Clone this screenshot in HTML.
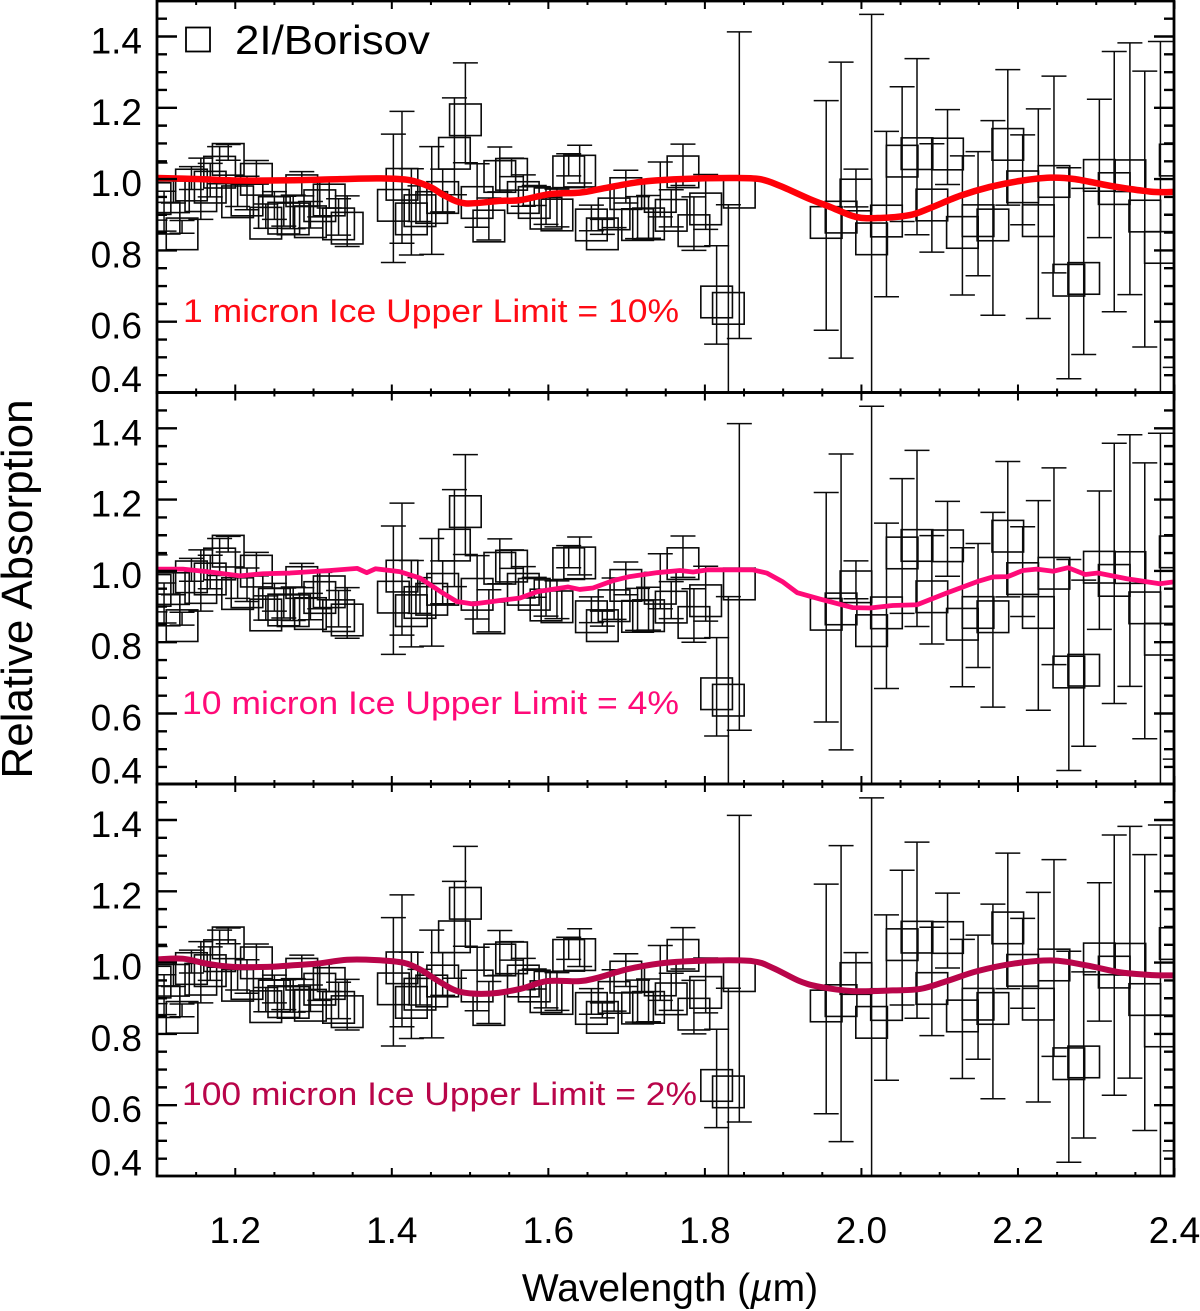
<!DOCTYPE html>
<html lang="en">
<head>
<meta charset="utf-8">
<title>2I/Borisov relative absorption</title>
<style>
html,body{margin:0;padding:0;background:#fff;width:1200px;height:1311px;overflow:hidden}
svg{display:block}
text{font-family:"Liberation Sans",Arial,sans-serif}
</style>
</head>
<body>
<svg id="chart" xmlns="http://www.w3.org/2000/svg" width="1200" height="1311" viewBox="0 0 1200 1311">
  <defs>
    <clipPath id="clip-0"><rect x="157" y="1" width="1017" height="391.5"/></clipPath>
    <clipPath id="clip-1"><rect x="157" y="392.5" width="1017" height="391.5"/></clipPath>
    <clipPath id="clip-2"><rect x="157" y="784" width="1017" height="392"/></clipPath>
  </defs>
  <g id="panel-0"></g>
  <g id="panel-1"></g>
  <g id="panel-2"></g>
  <g id="axes"></g>

  <rect x="186" y="27.5" width="24" height="24" fill="none" stroke="#000" stroke-width="1.8"/>
  <text x="235" y="54" font-size="41" fill="#000" textLength="195" lengthAdjust="spacingAndGlyphs">2I/Borisov</text>

  <text x="183" y="322" font-size="32" fill="#ff0a14" textLength="496" lengthAdjust="spacingAndGlyphs">1 micron Ice Upper Limit = 10%</text>
  <text x="182" y="714" font-size="32" fill="#ff0a78" textLength="497" lengthAdjust="spacingAndGlyphs">10 micron Ice Upper Limit = 4%</text>
  <text x="182" y="1105" font-size="32" fill="#b9054a" textLength="515" lengthAdjust="spacingAndGlyphs">100 micron Ice Upper Limit = 2%</text>

  <text transform="translate(32,589) rotate(-90)" text-anchor="middle" font-size="44" fill="#000">Relative Absorption</text>
  <text x="670" y="1301" text-anchor="middle" font-size="39" fill="#000">Wavelength (<tspan font-style="italic">µ</tspan>m)</text>
</svg>
<script>
var wavelength = [1.0975,1.109,1.121,1.132,1.144,1.156,1.168,1.180,1.191,1.203,1.215,1.227,1.239,1.250,1.262,1.274,1.285,1.296,1.308,1.320,1.332,1.343,
  1.402,1.413,1.425,1.436,1.451,1.465,1.480,1.494,1.509,1.524,1.538,1.553,1.568,1.582,1.597,1.611,1.626,1.640,1.655,1.669,1.684,1.699,1.714,1.728,1.743,1.757,1.772,1.786,1.801,1.815,1.830,1.844,
  1.955,1.974,1.993,2.013,2.032,2.052,2.071,2.090,2.110,2.129,2.149,2.168,2.187,2.206,2.226,2.246,2.265,2.284,2.304,2.323,2.343,2.362,2.382,2.401];
var absorption = [.965,.910,.970,.866,1.003,.973,.997,1.039,1.075,.956,.961,1.019,.896,.926,.910,.908,.987,.900,.945,.961,.894,.882,
  .946,1.005,.908,.931,.940,.968,1.092,1.186,.954,.888,1.027,1.033,.968,.954,.924,.919,1.040,1.042,.891,.866,.922,.979,.892,.894,.971,.918,1.040,.875,.936,.675,.657,.983,
  .898,.913,.975,.852,.902,1.070,1.091,.947,1.090,.870,.903,.891,1.117,.998,.903,1.013,.736,.741,1.030,.993,1.029,.916,.828,1.073];
var absorptionError = [.080,.056,.037,.018,.032,.086,.047,.052,.022,.033,.047,.033,.034,.039,.042,.047,.034,.037,.051,.042,.051,.071,
  .180,.185,.121,.050,.151,.060,.136,.140,.089,.059,.063,.026,.044,.028,.051,.053,.031,.053,.036,.021,.058,.046,.059,.060,.077,.052,.058,.075,.077,.138,.271,.430,
  .322,.415,.053,.610,.232,.189,.247,.152,.105,.195,.174,.273,.190,.126,.294,.276,.296,.233,.194,.365,.353,.387,.558,.601];

var modelWl1 = [1.100,1.155,1.206,1.283,1.334,1.385,1.423,1.449,1.468,1.494,1.538,1.564,1.602,1.640,1.666,1.717,1.768,1.832,1.870,1.896,1.934,1.960,1.993,2.024,2.062,2.088,2.126,2.164,2.203,2.241,2.273,2.318,2.369,2.400];
var modelR1 = [1.003,1.000,.996,.997,1.000,1.002,.997,.978,.953,.932,.939,.941,.958,.962,.972,.992,1.000,1.003,1.000,.981,.944,.922,.894,.891,.899,.919,.953,.978,.995,1.004,1.000,.981,.965,.964];

var modelWl2 = [1.100,1.133,1.164,1.206,1.235,1.270,1.321,1.356,1.368,1.379,1.410,1.436,1.465,1.483,1.504,1.525,1.538,1.564,1.586,1.625,1.640,1.657,1.683,1.704,1.739,1.768,1.785,1.803,1.861,1.879,1.899,1.918,1.947,1.989,2.011,2.040,2.071,2.109,2.148,2.168,2.187,2.206,2.224,2.245,2.264,2.286,2.302,2.339,2.381,2.398];
var modelR2 = [1.005,1.005,.998,.986,.992,.994,1.001,1.007,.995,1.006,.998,.980,.938,.914,.907,.913,.917,.924,.942,.955,.948,.952,.973,.984,.995,1.001,.997,1.003,1.003,.994,.970,.939,.921,.897,.896,.903,.905,.938,.970,.983,.984,1.001,1.005,.999,1.009,.990,.994,.978,.964,.969];

var modelWl3 = [1.100,1.133,1.164,1.197,1.241,1.270,1.304,1.343,1.381,1.414,1.436,1.462,1.487,1.525,1.564,1.598,1.640,1.662,1.704,1.752,1.810,1.861,1.887,1.921,1.947,1.989,2.040,2.075,2.109,2.148,2.194,2.245,2.288,2.330,2.372,2.398];
var modelR3 = [1.009,1.011,.997,.988,.988,.992,.997,1.008,1.007,1.000,.981,.945,.918,.913,.926,.948,.948,.957,.983,1.000,1.006,1.004,.985,.948,.932,.920,.922,.926,.948,.976,.997,1.006,.992,.973,.965,.964];

var yTickValues = [0.4,0.6,0.8,1.0,1.2,1.4];
var yTickLabels = ["0.4","0.6","0.8","1.0","1.2","1.4"];
var xTickValues = [1.2,1.4,1.6,1.8,2.0,2.2,2.4];
var xTickLabels = ["1.2","1.4","1.6","1.8","2.0","2.2","2.4"];

var NS = "http://www.w3.org/2000/svg";
var plotLeft = 157, plotRight = 1174;
var panelBottoms = [392.5, 784, 1176];
var panelTops = [1, 392.5, 784];
var zeroRow = [393, 784.8, 1176.5];
var lineColors = ["#ff0008", "#ff0a78", "#b9054a"];
var lineWidths = [6.5, 4.8, 6];
var lineSmooth = [true, false, true];
var modelWls = [modelWl1, modelWl2, modelWl3];
var modelVals = [modelR1, modelR2, modelR3];

function xAxis(w){ return plotLeft + (w - 1.1) * 782.7; }
function yAxis(v, p){ return zeroRow[p] - (v - 0.4) * 356.5; }
function make(tag, attrs, parent){
  var e = document.createElementNS(NS, tag);
  for (var k in attrs) e.setAttribute(k, attrs[k]);
  parent.appendChild(e);
  return e;
}
function smoothPath(pts){
  var d = "M" + pts[0][0].toFixed(2) + " " + pts[0][1].toFixed(2);
  for (var i = 0; i < pts.length - 1; i++){
    var p0 = pts[Math.max(i-1,0)], p1 = pts[i], p2 = pts[i+1], p3 = pts[Math.min(i+2,pts.length-1)];
    d += "C" + (p1[0]+(p2[0]-p0[0])/6).toFixed(2) + " " + (p1[1]+(p2[1]-p0[1])/6).toFixed(2) + " " +
         (p2[0]-(p3[0]-p1[0])/6).toFixed(2) + " " + (p2[1]-(p3[1]-p1[1])/6).toFixed(2) + " " +
         p2[0].toFixed(2) + " " + p2[1].toFixed(2);
  }
  return d;
}
function linePath(pts){
  return "M" + pts.map(function(q){ return q[0].toFixed(2) + " " + q[1].toFixed(2); }).join("L");
}

[0,1,2].forEach(function(p){
  var panel = document.getElementById("panel-" + p);
  var clipped = make("g", {"clip-path":"url(#clip-" + p + ")"}, panel);
  
  

  wavelength.forEach(function(w, i){
    var x = xAxis(w), y = yAxis(absorption[i], p), e = absorptionError[i];
    var hi = yAxis(absorption[i] + e, p), lo = yAxis(absorption[i] - e, p);
    var pt = make("g", {fill:"none", stroke:"#0a0a0a"}, clipped);
    
    
    var bar = make("path", {d:"M"+x+" "+hi+"V"+lo+"M"+(x-12.5)+" "+hi+"H"+(x+12.5)+"M"+(x-12.5)+" "+lo+"H"+(x+12.5), "stroke-width":1.5}, pt);
    
    
    var box = make("rect", {x:x-15.8, y:y+7-15.8, width:31.6, height:31.6, "stroke-width":1.6}, pt);
    
    
  });

  var pts = modelWls[p].map(function(w, i){ return [xAxis(w), yAxis(modelVals[p][i], p)]; });
  var line = make("path", {d: lineSmooth[p] ? smoothPath(pts) : linePath(pts), fill:"none", stroke:lineColors[p], "stroke-width":lineWidths[p], "stroke-linejoin":"round"}, clipped);
  
  
});

var axes = document.getElementById("axes");
[0,1,2].forEach(function(p){
  var top = panelTops[p], bot = panelBottoms[p], d = "";
  for (var k = 0; k <= 21; k++){
    var v = 0.4 + k * 0.05, y = yAxis(v, p);
    if (y < top + 2 || y > bot) continue;
    var major = k % 4 === 0, len = major ? 20 : 10;
    d += "M" + plotLeft + " " + y + "h" + len + "M" + plotRight + " " + y + "h" + (-len);
  }
  var yt = make("path", {d:d, stroke:"#000", "stroke-width":2.4, fill:"none"}, axes);
  
  

  d = "";
  for (var j = 0; j <= 26; j++){
    var w = 1.1 + j * 0.05, x = xAxis(w);
    var maj = (j - 2) % 4 === 0, h = maj ? 8 : 4;
    d += "M" + x + " " + top + "v" + h + "M" + x + " " + bot + "v" + (-h);
  }
  var xt = make("path", {d:d, stroke:"#000", "stroke-width":2, fill:"none"}, axes);
  
  

  var frame = make("rect", {x:plotLeft, y:top, width:plotRight-plotLeft, height:bot-top, fill:"none", stroke:"#000", "stroke-width":2.8}, axes);
  
  

  yTickValues.forEach(function(v, i){
    var base = Math.min(yAxis(v, p) + 17, bot - 0.5);
    var t = make("text", {x:142, y:base, "text-anchor":"end", "font-size":37, fill:"#000"}, axes);
    
    
    t.textContent = yTickLabels[i];
  });
});
xTickValues.forEach(function(v, i){
  var t = make("text", {x:xAxis(v), y:1243, "text-anchor":"middle", "font-size":37, fill:"#000"}, axes);
  
  
  t.textContent = xTickLabels[i];
});
</script>
</body>
</html>
